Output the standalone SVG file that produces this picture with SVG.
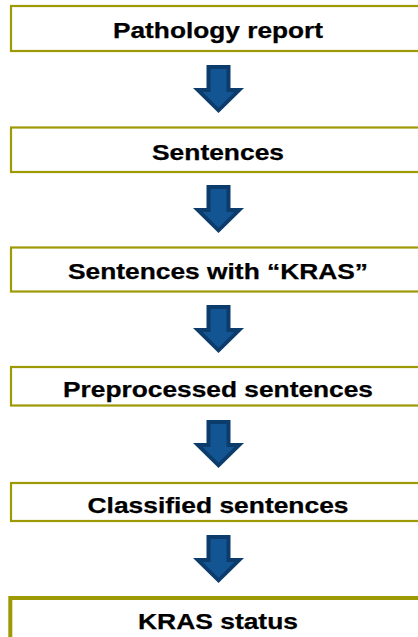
<svg xmlns="http://www.w3.org/2000/svg" width="418" height="637" viewBox="0 0 418 637">
  <style>
    .box { fill: #ffffff; stroke: #9d9a06; stroke-width: 2.2; }
    .box-final { fill: #ffffff; stroke: #9d9a06; stroke-width: 4; }
    .label { font-family: "Liberation Sans", Arial, sans-serif; font-weight: bold; font-size: 22px; fill: #000000; stroke: #000000; stroke-width: 0.25; text-anchor: middle; }
    .arrow-outer { fill: #0c3c6c; }
    .arrow-inner { fill: #135592; }
  </style>
  <defs>
    <!-- block arrow pointing down, origin at top centre of the shaft -->
    <g id="down-arrow">
      <path class="arrow-outer" d="M-12,0 H12 V23 H25.5 L0,48 L-25.5,23 H-12 Z"/>
      <path class="arrow-inner" d="M-8,4 H8 V27 H15.8 L0,42.8 L-15.8,27 H-8 Z"/>
    </g>
  </defs>
  <rect width="418" height="637" fill="#ffffff"/>

  <g id="connectors">
    <use href="#down-arrow" x="218.5" y="65"/>
    <use href="#down-arrow" x="218.5" y="185"/>
    <use href="#down-arrow" x="218.5" y="305"/>
    <use href="#down-arrow" x="218.5" y="420"/>
    <use href="#down-arrow" x="218.5" y="535"/>
  </g>

  <g id="pathology-report">
    <rect class="box" x="11" y="6" width="420" height="45"/>
    <text class="label" x="218" y="38" textLength="210" lengthAdjust="spacingAndGlyphs">Pathology report</text>
  </g>

  <g id="sentences">
    <rect class="box" x="11" y="127.5" width="420" height="44.5"/>
    <text class="label" x="218" y="159.5" textLength="132" lengthAdjust="spacingAndGlyphs">Sentences</text>
  </g>

  <g id="sentences-with-kras">
    <rect class="box" x="11" y="247.5" width="420" height="44"/>
    <text class="label" x="218" y="278.5" textLength="300" lengthAdjust="spacingAndGlyphs">Sentences with “KRAS”</text>
  </g>

  <g id="preprocessed-sentences">
    <rect class="box" x="11" y="367" width="420" height="38.5"/>
    <text class="label" x="218" y="397" textLength="310" lengthAdjust="spacingAndGlyphs">Preprocessed sentences</text>
  </g>

  <g id="classified-sentences">
    <rect class="box" x="11" y="483" width="420" height="38"/>
    <text class="label" x="218" y="512.5" textLength="261" lengthAdjust="spacingAndGlyphs">Classified sentences</text>
  </g>

  <g id="kras-status">
    <rect class="box-final" x="10.3" y="598" width="420" height="50"/>
    <text class="label" x="218" y="628.5" textLength="160" lengthAdjust="spacingAndGlyphs">KRAS status</text>
  </g>
</svg>
